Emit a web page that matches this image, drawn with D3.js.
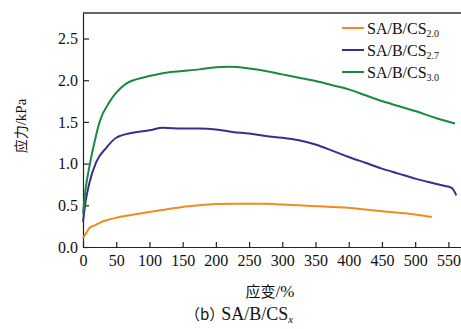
<!DOCTYPE html>
<html>
<head>
<meta charset="utf-8">
<script src="https://cdn.jsdelivr.net/npm/d3@7"></script>
<style>
  body { margin: 0; background: #fff; }
  text { font-family: "Liberation Serif", "Times New Roman", serif; }
</style>
</head>
<body>
<div id="chart"></div>
<script>
// Data (strain %, stress kPa)
const strain20 = [0, 5, 10, 18, 25, 35, 50, 70, 100, 125, 150, 175, 200, 225, 250, 275, 300, 325, 350, 375, 400, 425, 450, 475, 500, 525];
const stress20 = [0.11, 0.17, 0.23, 0.26, 0.29, 0.32, 0.35, 0.38, 0.42, 0.45, 0.48, 0.50, 0.515, 0.52, 0.52, 0.52, 0.51, 0.50, 0.49, 0.48, 0.47, 0.45, 0.43, 0.41, 0.39, 0.36];

const strain27 = [0, 4, 10, 20, 35, 50, 75, 100, 120, 150, 175, 200, 225, 250, 275, 300, 325, 350, 380, 400, 425, 450, 475, 500, 520, 540, 555, 562];
const stress27 = [0.30, 0.55, 0.78, 1.02, 1.19, 1.31, 1.37, 1.40, 1.43, 1.42, 1.42, 1.41, 1.38, 1.36, 1.33, 1.31, 1.28, 1.23, 1.14, 1.08, 1.01, 0.94, 0.88, 0.82, 0.78, 0.74, 0.71, 0.62];

const strain30 = [0, 4, 10, 18, 25, 40, 50, 65, 80, 100, 125, 150, 175, 200, 220, 250, 275, 300, 325, 350, 375, 400, 425, 450, 475, 500, 530, 560];
const stress30 = [0.40, 0.70, 0.98, 1.28, 1.50, 1.74, 1.85, 1.96, 2.01, 2.05, 2.09, 2.11, 2.13, 2.155, 2.16, 2.14, 2.11, 2.07, 2.03, 1.99, 1.94, 1.89, 1.82, 1.75, 1.69, 1.63, 1.55, 1.48];

const seriesNames = ["SA/B/CS", "SA/B/CS", "SA/B/CS"];
const seriesSubs = ["2.0", "2.7", "3.0"];
const seriesColors = ["#ef8b1f", "#3a2d8e", "#1b8a3f"];

const xTicks = [0, 50, 100, 150, 200, 250, 300, 350, 400, 450, 500, 550];
const yTicks = [0.0, 0.5, 1.0, 1.5, 2.0, 2.5];

const W = 461, H = 329;
const margin = {top: 13, right: 0, bottom: 82, left: 83};
const width = W - margin.left - margin.right,
    height = H - margin.top - margin.bottom;

const svg = d3.select("#chart")
    .append("svg")
    .attr("width", W)
    .attr("height", H);

const g = svg.append("g")
    .attr("transform", `translate(${margin.left},${margin.top})`);

const x = d3.scaleLinear().domain([0, 569]).range([0, width]);
const y = d3.scaleLinear().domain([0, 2.806]).range([height, 0]);

// Axes with inward ticks
const xAxis = g.append("g")
    .attr("transform", `translate(0,${height})`)
    .call(d3.axisBottom(x).tickValues(xTicks).tickSizeInner(-5).tickSizeOuter(0).tickPadding(8).tickFormat(d3.format("d")));
const yAxis = g.append("g")
    .call(d3.axisLeft(y).tickValues(yTicks).tickSizeInner(-6).tickSizeOuter(0).tickPadding(5).tickFormat(d3.format(".1f")));

[xAxis, yAxis].forEach(a => {
    a.selectAll("text")
        .style("font-family", "'Liberation Serif', serif")
        .style("font-size", "16px")
        .attr("fill", "#111");
    a.selectAll("line, path").attr("stroke", "#222").attr("stroke-width", 1.2);
});

// Top border
g.append("line")
    .attr("x1", 0).attr("x2", width)
    .attr("y1", 0).attr("y2", 0)
    .attr("stroke", "#333").attr("stroke-width", 1.5);

// Lines
const line = d3.line()
    .x(d => x(d[0]))
    .y(d => y(d[1]))
    .curve(d3.curveMonotoneX);

const series = [
    d3.zip(strain20, stress20),
    d3.zip(strain27, stress27),
    d3.zip(strain30, stress30)
];

series.forEach((s, i) => {
    g.append("path")
        .datum(s)
        .attr("fill", "none")
        .attr("stroke", seriesColors[i])
        .attr("stroke-width", 2)
        .attr("d", line);
});

// Legend
const legend = svg.append("g").attr("transform", "translate(342,28)");
seriesNames.forEach((name, i) => {
    const row = legend.append("g").attr("transform", `translate(0,${i * 22})`);
    row.append("line")
        .attr("x1", 0).attr("x2", 22)
        .attr("y1", 0).attr("y2", 0)
        .attr("stroke", seriesColors[i])
        .attr("stroke-width", 2);
    const t = row.append("text")
        .attr("x", 25)
        .attr("y", 6)
        .style("font-size", "16px")
        .attr("fill", "#111");
    t.append("tspan").text(name);
    t.append("tspan")
        .attr("dy", 3)
        .style("font-size", "10px")
        .text(seriesSubs[i]);
});

// Axis labels
svg.append("text")
    .attr("transform", "rotate(-90)")
    .attr("x", -126)
    .attr("y", 26)
    .attr("text-anchor", "middle")
    .style("font-size", "15px")
    .attr("fill", "#111")
    .html('<tspan style="font-family:\'Noto Sans CJK SC\'; font-size:14px">应力</tspan>/kPa');

svg.append("text")
    .attr("x", 270)
    .attr("y", 297)
    .attr("text-anchor", "middle")
    .style("font-size", "17px")
    .attr("fill", "#111")
    .html('<tspan style="font-family:\'Noto Sans CJK SC\'; font-size:15px">应变</tspan>/%');

const cap = svg.append("text")
    .attr("x", 185)
    .attr("y", 320)
    .style("font-size", "18px")
    .attr("fill", "#111");
cap.append("tspan")
    .style("font-family", "'Noto Sans CJK SC'")
    .style("font-size", "15px")
    .text("（b）");
cap.append("tspan").attr("dx", -3).text("SA/B/CS");
cap.append("tspan")
    .attr("dy", 3)
    .style("font-size", "11px")
    .style("font-style", "italic")
    .text("x");
</script>
</body>
</html>
